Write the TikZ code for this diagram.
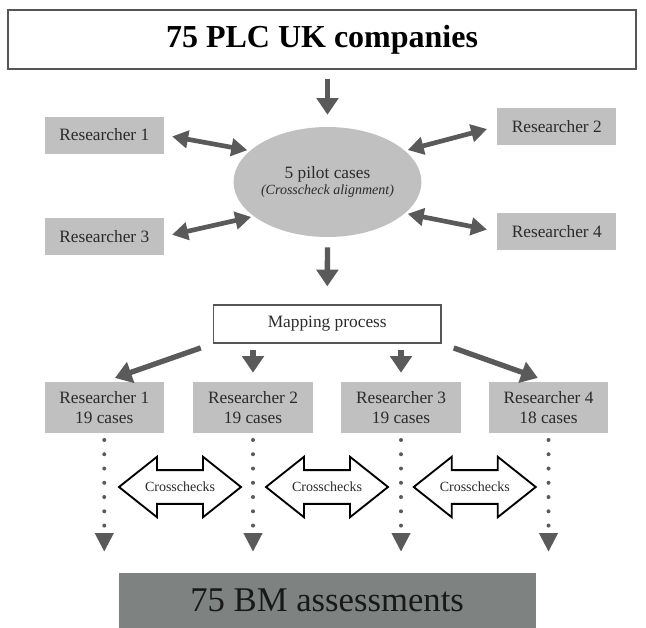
\documentclass[tikz,border=0pt]{standalone}
\usepackage{fontspec}
\setmainfont{Liberation Serif}
\usetikzlibrary{arrows.meta,shapes.geometric,shapes.arrows}
\definecolor{boxgrey}{HTML}{C0C0C0}
\definecolor{arrowgrey}{HTML}{5A5A5A}
\definecolor{boxedge}{HTML}{555555}
\definecolor{darkbox}{HTML}{7E8381}
\definecolor{textdark}{HTML}{2B2B2B}

\begin{document}
\begin{tikzpicture}[x=0.75pt, y=-0.75pt, text=textdark,
    greybox/.style={fill=boxgrey, minimum width=89.6pt, minimum height=27.75pt, inner sep=0pt, font=\fontsize{13}{15}\selectfont},
    casebox/.style={greybox, minimum height=38.3pt, align=center},
    fat/.style={draw=arrowgrey, line width=4pt, -{Triangle[width=16pt,length=12.5pt]}},
    fatboth/.style={draw=arrowgrey, line width=3.5pt, {Triangle[width=13pt,length=12pt]}-{Triangle[width=13pt,length=12pt]}},
    dots/.style={draw=arrowgrey, line width=3pt, line cap=round, dash pattern=on 0pt off 10.7pt, -{Triangle[width=13.5pt,length=14pt]}},
    xcheck/.style={double arrow, draw=black, fill=white, line width=1.4pt, minimum height=91.5pt, double arrow head extend=10pt, double arrow tip angle=77, inner xsep=2pt, inner ysep=8.3pt, font=\fontsize{10.5}{12}\selectfont}]
    \useasboundingbox (0,0) rectangle (646,628);
    \node[draw=boxedge, line width=1pt, minimum width=471pt, minimum height=44.25pt, inner sep=0pt, text=black, font=\fontsize{24}{28}\selectfont\bfseries] (plc) at (322,39.5) {75 PLC UK companies};
    \node[ellipse, fill=boxgrey, minimum width=123.75pt, minimum height=82.5pt, inner sep=0pt, align=center, font=\fontsize{13}{11.5}\selectfont] (pilot) at (327.5,182) {5 pilot cases\\{\fontsize{10.5}{11.5}\selectfont\itshape (Crosscheck alignment)}};
    \node[greybox] (r1) at (104.25,135) {Researcher 1};
    \node[greybox] (r2) at (556.75,126.5) {Researcher 2};
    \node[greybox] (r3) at (104.25,236.5) {Researcher 3};
    \node[greybox] (r4) at (556.75,231.5) {Researcher 4};
    \node[draw=boxedge, line width=1pt, minimum width=170.6pt, minimum height=28.5pt, inner sep=0pt, font=\fontsize{13}{15}\selectfont] (map) at (327.25,324) {Mapping process};
    \node[casebox] (c1) at (104.25,407.5) {Researcher 1\\19 cases};
    \node[casebox] (c2) at (253,407.5) {Researcher 2\\19 cases};
    \node[casebox] (c3) at (401,407.5) {Researcher 3\\19 cases};
    \node[casebox] (c4) at (548.5,407.5) {Researcher 4\\18 cases};
    \node[xcheck] (x12) at (180,487) {Crosschecks};
    \node[xcheck] (x23) at (327,487) {Crosschecks};
    \node[xcheck] (x34) at (474.75,487) {Crosschecks};
    \node[fill=darkbox, minimum width=312.7pt, minimum height=41.25pt, inner sep=0pt, text=black!90, font=\fontsize{26}{30}\selectfont] (bm) at (327.15,600.5) {75 BM assessments};
    \draw[fat, shorten <=6.75pt, shorten >=9pt] (pilot |- plc.south) -- (pilot.north);
    \draw[fatboth, shorten <=6pt, shorten >=2pt] (r1.east) -- (pilot.158);
    \draw[fatboth, shorten <=7.5pt, shorten >=2pt] (r2.west) -- (pilot.22);
    \draw[fatboth, shorten <=6pt, shorten >=2pt] (r3.east) -- (pilot.205);
    \draw[fatboth, shorten <=7.5pt, shorten >=2pt] (r4.west) -- (pilot.338);
    \draw[fat, shorten <=7.5pt, shorten >=13.5pt] (pilot.south) -- (map.north);
    \draw[fat, shorten <=9.6pt, shorten >=8.5pt] (map.south west) -- (c1.north);
    \draw[fat, shorten <=5pt, shorten >=6.75pt] (c2.north |- map.south) -- (c2.north);
    \draw[fat, shorten <=5pt, shorten >=6.75pt] (c3.north |- map.south) -- (c3.north);
    \draw[fat, shorten <=9.6pt, shorten >=8.5pt] (map.south east) -- (c4.north);
    \draw[dots, shorten <=5pt, shorten >=15.75pt] (c1.south) -- (c1.south |- bm.north);
    \draw[dots, shorten <=5pt, shorten >=15.75pt] (c2.south) -- (c2.south |- bm.north);
    \draw[dots, shorten <=5pt, shorten >=15.75pt] (c3.south) -- (c3.south |- bm.north);
    \draw[dots, shorten <=5pt, shorten >=15.75pt] (c4.south) -- (c4.south |- bm.north);
\end{tikzpicture}
\end{document}
